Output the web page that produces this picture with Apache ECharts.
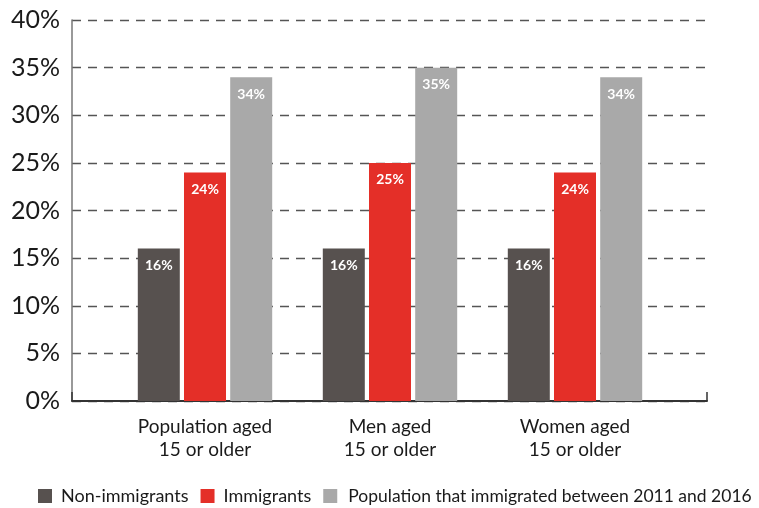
<!DOCTYPE html>
<html>
<head>
<meta charset="utf-8">
<script src="https://cdn.jsdelivr.net/npm/echarts@6/dist/echarts.min.js"></script>
<style>
  html, body { margin: 0; padding: 0; background: #fff; }
  #chart { width: 759px; height: 508px; }
</style>
</head>
<body>
<div id="chart"></div>
<script>
// Share of the population in each group (%)
const categories = ['Population aged\n15 or older', 'Men aged\n15 or older', 'Women aged\n15 or older'];
const seriesNames = ['Non-immigrants', 'Immigrants', 'Population that immigrated between 2011 and 2016'];
const nonImmigrants = [16, 16, 16];
const immigrants = [24, 25, 24];
const recentImmigrants = [34, 35, 34];
const yTicks = [0, 5, 10, 15, 20, 25, 30, 35, 40];

const colors = ['#57514f', '#e42f28', '#a9a9a9'];
const FONT = 'Lato, "Open Sans", sans-serif';

const chart = echarts.init(document.getElementById('chart'), null, { renderer: 'canvas' });

const barLabel = {
  show: true,
  position: 'insideTop',
  distance: 10,
  color: '#ffffff',
  fontFamily: FONT,
  fontWeight: 'bold',
  fontSize: 14,
  formatter: p => p.value + '%'
};

function makeSeries(name, data, color) {
  return {
    name: name,
    type: 'bar',
    xAxisIndex: 1,
    yAxisIndex: 1,
    data: data,
    barWidth: 42,
    barGap: '10%',
    itemStyle: { color: color },
    label: barLabel,
    emphasis: { disabled: true }
  };
}

chart.setOption({
  animation: false,
  grid: [
    // frame with the percentage scale
    { left: 72, right: 52, top: 20, bottom: 107 },
    // the bar groups
    { left: 112.5, right: 91.5, top: 20, bottom: 107 }
  ],
  legend: {
    left: 38,
    top: 487,
    width: 760,
    padding: 0,
    itemWidth: 14,
    itemHeight: 14,
    itemGap: 12,
    icon: 'rect',
    textStyle: { fontFamily: FONT, fontSize: 18, color: '#1a1a1a', padding: [0, 0, 0, 4] },
    data: [
      seriesNames[0],
      seriesNames[1],
      { name: seriesNames[2], textStyle: { fontSize: 17.5, padding: [0, 0, 0, 6] } }
    ]
  },
  xAxis: [
    {
      gridIndex: 0,
      type: 'value',
      min: 0,
      max: 1,
      interval: 1,
      axisLine: { show: true, lineStyle: { color: '#333', width: 2 } },
      axisTick: { show: true, inside: true, length: 9, lineStyle: { color: '#333', width: 1.5 } },
      axisLabel: { show: false },
      splitLine: { show: false }
    },
    {
      gridIndex: 1,
      type: 'category',
      data: categories,
      axisLine: { show: false },
      axisTick: { show: false },
      axisLabel: {
        fontFamily: FONT,
        fontSize: 19,
        lineHeight: 23,
        color: '#1a1a1a',
        margin: 14
      }
    }
  ],
  yAxis: [
    {
      gridIndex: 0,
      type: 'value',
      min: yTicks[0],
      max: yTicks[yTicks.length - 1],
      interval: 5,
      axisLine: { show: true, lineStyle: { color: '#777', width: 1.5 } },
      axisTick: { show: false },
      axisLabel: {
        fontFamily: FONT,
        fontSize: 25,
        color: '#1a1a1a',
        margin: 12,
        padding: [5, 0, 0, 0],
        formatter: '{value}%'
      },
      splitLine: {
        show: true,
        lineStyle: { color: '#555', width: 1.3, type: [9, 7] }
      }
    },
    {
      gridIndex: 1,
      type: 'value',
      min: yTicks[0],
      max: yTicks[yTicks.length - 1],
      interval: 5,
      show: false,
      splitLine: { show: false }
    }
  ],
  series: [
    makeSeries(seriesNames[0], nonImmigrants, colors[0]),
    makeSeries(seriesNames[1], immigrants, colors[1]),
    makeSeries(seriesNames[2], recentImmigrants, colors[2])
  ]
});
</script>
</body>
</html>
